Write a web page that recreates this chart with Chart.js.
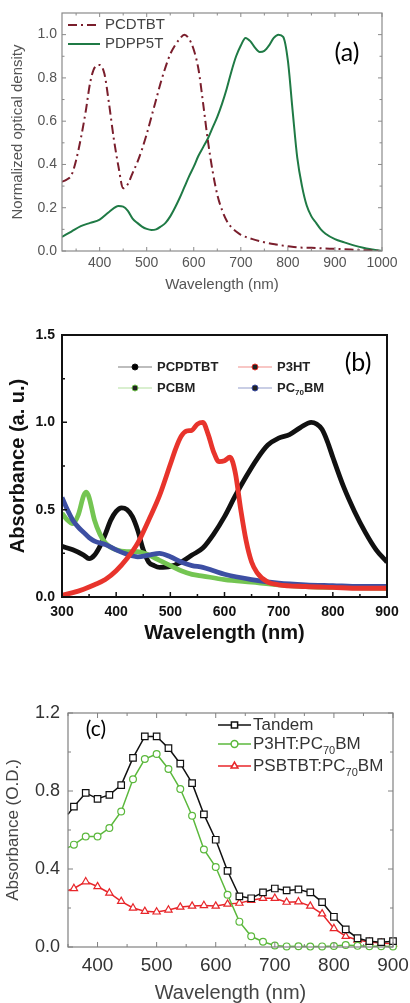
<!DOCTYPE html>
<html>
<head>
<meta charset="utf-8">
<title>Absorption spectra</title>
<script src="https://cdn.jsdelivr.net/npm/chart.js@4.4.0/dist/chart.umd.min.js"></script>
<style>
  html, body { margin: 0; padding: 0; background: #fff; }
  body { width: 410px; height: 1003px; position: relative; overflow: hidden; }
  canvas { position: absolute; left: 0; }
</style>
</head>
<body>
<canvas id="chartA" width="410" height="305" style="top:0"></canvas>
<canvas id="chartB" width="410" height="330" style="top:320px"></canvas>
<canvas id="chartC" width="410" height="323" style="top:680px"></canvas>
<script>
// (a) normalized optical density
const waveA1 = [320, 330, 340, 350, 360, 370, 380, 390, 400, 410, 420, 430, 440, 450, 460, 470, 480, 490, 500, 510,
    520, 530, 540, 550, 560, 570, 580, 590, 600, 610, 620, 630, 640, 650, 660, 670, 680, 690, 700,
    725, 750, 775, 800, 825, 850, 875, 900, 950, 1000];
const pcdtbt = [0.32, 0.33, 0.35, 0.42, 0.52, 0.64, 0.78, 0.85, 0.86, 0.82, 0.68, 0.52, 0.39, 0.29, 0.31, 0.36, 0.41, 0.47, 0.54, 0.62,
    0.70, 0.78, 0.85, 0.91, 0.95, 0.98, 1.0, 0.98, 0.93, 0.84, 0.68, 0.51, 0.37, 0.26, 0.19, 0.14, 0.11, 0.09, 0.075,
    0.055, 0.04, 0.03, 0.022, 0.016, 0.015, 0.012, 0.01, 0.005, 0.0];
const waveA2 = [320, 340, 360, 380, 400, 420, 440,
    450, 460, 470, 480, 490, 500, 510, 520, 530, 540, 550, 560, 570, 580, 590, 600, 610, 620, 630, 640,
    650, 660, 670, 680, 690, 700, 710, 720, 730, 740, 750, 760, 770, 780, 790, 800, 810, 820, 830, 840,
    850, 860, 870, 880, 900, 920, 940, 960, 980, 1000];
const pdpp5t = [0.065, 0.09, 0.115, 0.13, 0.145, 0.18, 0.208,
    0.205, 0.185, 0.15, 0.13, 0.113, 0.102, 0.097, 0.10, 0.113, 0.13, 0.16, 0.20, 0.245, 0.295, 0.345, 0.39, 0.44, 0.48, 0.52, 0.57,
    0.62, 0.68, 0.75, 0.83, 0.90, 0.95, 0.985, 0.97, 0.94, 0.92, 0.925, 0.95, 0.985, 1.0, 0.99, 0.88, 0.65, 0.43, 0.30, 0.21,
    0.16, 0.13, 0.10, 0.08, 0.055, 0.04, 0.026, 0.015, 0.007, 0.0];
const ticksAX = [400, 500, 600, 700, 800, 900, 1000];
const minorAX = [350, 450, 550, 650, 750, 850, 950];
const ticksAY = [0, 0.2, 0.4, 0.6, 0.8, 1.0];
const minorAY = [0.1, 0.3, 0.5, 0.7, 0.9];

// (b) absorbance of donors and fullerenes
const waveP3ht = [300, 320, 340, 360, 380, 400, 420, 440, 460, 480, 500,
    510, 520, 530, 540, 550, 560, 570, 580, 590, 600, 610, 620, 630, 640, 650, 660,
    680, 700, 750, 800, 850, 900];
const p3ht = [0.01, 0.025, 0.045, 0.07, 0.10, 0.15, 0.22, 0.31, 0.44, 0.58, 0.76,
    0.85, 0.92, 0.95, 0.955, 0.99, 1.0, 0.93, 0.83, 0.775, 0.78, 0.80, 0.71, 0.50, 0.32, 0.20, 0.14,
    0.085, 0.07, 0.06, 0.055, 0.05, 0.05];
const wavePcpdtbt = [300, 320, 340, 350, 360, 370, 380, 390, 400, 410, 420, 430, 440, 450, 460, 470, 480,
    500, 520, 540, 560, 580, 600, 620, 640, 660, 680, 700, 720, 740, 760, 770, 780, 790, 800,
    820, 840, 860, 880, 900];
const pcpdtbt = [0.29, 0.27, 0.24, 0.22, 0.24, 0.29, 0.36, 0.44, 0.49, 0.51, 0.50, 0.46, 0.38, 0.27, 0.20, 0.18, 0.17,
    0.175, 0.20, 0.24, 0.28, 0.36, 0.46, 0.58, 0.69, 0.79, 0.87, 0.91, 0.93, 0.97, 1.0, 0.99, 0.96, 0.89, 0.80,
    0.63, 0.49, 0.37, 0.27, 0.20];
const wavePcbm = [300, 310, 320, 330, 340, 345, 350, 360, 370, 380, 400, 420, 440, 460, 480, 500, 520, 540, 560, 600,
    650, 700, 750, 800, 900];
const pcbm = [0.48, 0.44, 0.42, 0.47, 0.58, 0.60, 0.57, 0.44, 0.36, 0.31, 0.27, 0.26, 0.26, 0.24, 0.21, 0.18, 0.15, 0.13, 0.12, 0.10,
    0.085, 0.07, 0.06, 0.055, 0.05];
const wavePc70 = [300, 310, 320, 330, 340, 350, 360, 380, 400, 420, 440, 460, 480, 500, 520, 540, 560, 580, 600,
    650, 700, 750, 800, 850, 900];
const pc70bm = [0.57, 0.50, 0.44, 0.40, 0.37, 0.34, 0.32, 0.30, 0.27, 0.245, 0.23, 0.24, 0.25, 0.23, 0.20, 0.18, 0.17, 0.15, 0.13,
    0.10, 0.08, 0.07, 0.065, 0.06, 0.06];
const ticksBX = [300, 400, 500, 600, 700, 800, 900];
const minorBX = [350, 450, 550, 650, 750, 850];
const ticksBY = [0, 0.5, 1.0, 1.5];
const minorBY = [0.25, 0.75, 1.25];

// (c) tandem vs. single blends
const waveC = [350, 360, 380, 400, 420, 440, 460, 480, 500, 520, 540, 560, 580, 600, 620, 640, 660, 680, 700, 720,
    740, 760, 780, 800, 820, 840, 860, 880, 900];
const tandem = [0.68, 0.72, 0.79, 0.76, 0.78, 0.83, 0.97, 1.08, 1.08, 1.02, 0.94, 0.84, 0.68, 0.55, 0.39, 0.26, 0.25, 0.28, 0.30, 0.29,
    0.295, 0.28, 0.23, 0.155, 0.09, 0.045, 0.03, 0.025, 0.03];
const p3htPc70 = [0.51, 0.525, 0.567, 0.567, 0.61, 0.695, 0.86, 0.964, 0.99, 0.913, 0.81, 0.673, 0.50, 0.41, 0.268, 0.13, 0.055, 0.027, 0.008, 0.003,
    0.004, 0.002, 0.003, 0.005, 0.01, 0.006, 0.004, 0.004, 0.003];
const psbtbtPc70 = [0.29, 0.30, 0.335, 0.31, 0.277, 0.234, 0.20, 0.183, 0.18, 0.19, 0.205, 0.21, 0.213, 0.21, 0.22, 0.225, 0.24, 0.25, 0.25, 0.23,
    0.232, 0.21, 0.17, 0.095, 0.055, 0.036, 0.025, 0.02, 0.017];
const ticksCX = [400, 500, 600, 700, 800, 900];
const minorCX = [350, 450, 550, 650, 750, 850];
const ticksCY = [0, 0.4, 0.8, 1.2];
const minorCY = [0.2, 0.6, 1.0];

const SANS = '"Liberation Sans", Arial, sans-serif';
Chart.defaults.font.family = SANS;
Chart.defaults.animation = false;

function pairs(xs, ys) {
    return xs.map((x, i) => ({ x: x, y: ys[i] }));
}

// box round the plot area with inward tick marks
const frameTicks = {
    id: 'frameTicks',
    afterDatasetsDraw(chart, args, o) {
        const { ctx, chartArea: a } = chart;
        const xs = chart.scales.x, ys = chart.scales.y;
        ctx.save();
        ctx.strokeStyle = o.color;
        ctx.lineWidth = o.tickWidth;
        ctx.beginPath();
        const mark = (side, v, len) => {
            if (side === 'bottom' || side === 'top') {
                const px = xs.getPixelForValue(v);
                const y0 = side === 'bottom' ? a.bottom : a.top;
                ctx.moveTo(px, y0);
                ctx.lineTo(px, side === 'bottom' ? y0 - len : y0 + len);
            } else {
                const py = ys.getPixelForValue(v);
                const x0 = side === 'left' ? a.left : a.right;
                ctx.moveTo(x0, py);
                ctx.lineTo(side === 'left' ? x0 + len : x0 - len, py);
            }
        };
        o.sides.forEach(side => {
            const horiz = side === 'bottom' || side === 'top';
            (horiz ? o.xMajor : o.yMajor).forEach(v => mark(side, v, o.major));
            (horiz ? o.xMinor : o.yMinor).forEach(v => mark(side, v, o.minor));
        });
        ctx.stroke();
        ctx.lineWidth = o.width;
        ctx.strokeRect(a.left, a.top, a.right - a.left, a.bottom - a.top);
        ctx.restore();
    }
};

// text with subscripts: odd parts are lowered and smaller
function drawParts(ctx, parts, x, y, size, weight, drop) {
    parts.forEach((p, i) => {
        const sub = i % 2 === 1;
        const s = sub ? Math.round(size * 0.62) : size;
        ctx.font = weight + ' ' + s + 'px ' + SANS;
        ctx.fillText(p, x, sub ? y + size * drop : y);
        x += ctx.measureText(p).width;
    });
}

const keyBox = {
    id: 'keyBox',
    afterDraw(chart, args, o) {
        const ctx = chart.ctx;
        ctx.save();
        ctx.textBaseline = 'middle';
        o.items.forEach(it => {
            ctx.globalAlpha = o.lineAlpha || 1;
            ctx.strokeStyle = it.color;
            ctx.lineWidth = o.lineWidth;
            ctx.setLineDash(it.dash || []);
            ctx.beginPath();
            ctx.moveTo(it.x, it.y);
            ctx.lineTo(it.x + o.lineLen, it.y);
            ctx.stroke();
            ctx.setLineDash([]);
            ctx.globalAlpha = 1;
            if (it.marker) {
                ctx.fillStyle = it.fill || it.color;
                Chart.helpers.drawPoint(ctx, {
                    pointStyle: it.marker, radius: it.radius || o.radius, borderWidth: o.lineWidth, rotation: 0
                }, it.x + o.lineLen / 2, it.y);
            }
            ctx.fillStyle = o.textColor;
            drawParts(ctx, it.label, it.x + o.lineLen + o.gap, it.y, o.size, o.weight, o.drop || 0.32);
        });
        ctx.restore();
    }
};

const panelTag = {
    id: 'panelTag',
    afterDraw(chart, args, o) {
        const ctx = chart.ctx;
        ctx.save();
        ctx.font = o.size + 'px Lato, "Open Sans", sans-serif';
        ctx.fillStyle = '#000';
        ctx.textAlign = 'center';
        ctx.textBaseline = 'middle';
        ctx.fillText(o.text, o.x, o.y);
        ctx.restore();
    }
};

function xAxis(min, max, ticks, height, opt) {
    return {
        type: 'linear', min: min, max: max,
        afterBuildTicks: s => { s.ticks = ticks.map(v => ({ value: v })); },
        afterFit: s => { s.height = height; s.paddingLeft = 0; s.paddingRight = 0; },
        grid: { display: false, drawTicks: false },
        border: { display: false },
        ticks: {
            padding: opt.pad, color: opt.color, autoSkip: false, maxRotation: 0,
            font: { size: opt.size, weight: opt.weight, lineHeight: 1 },
            callback: v => String(v)
        },
        title: {
            display: true, text: 'Wavelength (nm)', color: opt.titleColor,
            font: { size: opt.titleSize, weight: opt.weight, lineHeight: 1 },
            padding: { top: 0, bottom: opt.titlePad }
        }
    };
}

function yAxis(min, max, ticks, width, text, opt) {
    return {
        type: 'linear', min: min, max: max,
        afterBuildTicks: s => { s.ticks = ticks.map(v => ({ value: v })); },
        afterFit: s => { s.width = width; s.paddingTop = 0; s.paddingBottom = 0; },
        grid: { display: false, drawTicks: false },
        border: { display: false },
        ticks: {
            padding: opt.pad, color: opt.color, autoSkip: false,
            font: { size: opt.size, weight: opt.weight, lineHeight: 1 },
            callback: v => v.toFixed(1)
        },
        title: {
            display: true, text: text, color: opt.titleColor,
            font: { size: opt.titleSize, weight: opt.weight, lineHeight: 1 },
            padding: { top: opt.titlePad, bottom: 0 }
        }
    };
}

const common = {
    responsive: false,
    events: [],
    parsing: false,
    plugins: { legend: { display: false }, tooltip: { enabled: false } }
};

// ---- (a)
new Chart(document.getElementById('chartA'), {
    type: 'line',
    data: {
        datasets: [
            { data: pairs(waveA1, pcdtbt), borderColor: '#7a1e2c', borderWidth: 2, borderDash: [9, 4, 2, 4],
              pointRadius: 0, cubicInterpolationMode: 'monotone' },
            { data: pairs(waveA2, pdpp5t), borderColor: '#1f7a45', borderWidth: 2,
              pointRadius: 0, cubicInterpolationMode: 'monotone' }
        ]
    },
    options: Object.assign({}, common, {
        layout: { padding: { left: 0, top: 13, right: 28, bottom: 0 } },
        plugins: Object.assign({}, common.plugins, {
            frameTicks: { color: '#8a8a8a', width: 1.2, tickWidth: 1, major: 4, minor: 2.5,
                sides: ['bottom', 'top', 'left', 'right'],
                xMajor: ticksAX, xMinor: minorAX, yMajor: ticksAY, yMinor: minorAY },
            keyBox: { lineWidth: 2, lineLen: 32, gap: 5, size: 15, weight: 'normal', textColor: '#444', radius: 0,
                items: [
                    { x: 68, y: 25, color: '#7a1e2c', dash: [9, 4, 2, 4], label: ['PCDTBT'] },
                    { x: 68, y: 44, color: '#1f7a45', label: ['PDPP5T'] }
                ] },
            panelTag: { text: '(a)', x: 347, y: 53, size: 25 }
        }),
        scales: {
            x: xAxis(320, 1000, ticksAX, 54, { pad: 5, color: '#555', size: 14, weight: 'normal',
                titleColor: '#555', titleSize: 15, titlePad: 12.5 }),
            y: yAxis(0, 1.1, ticksAY, 62, 'Normalized optical density', { pad: 5, color: '#555', size: 14,
                weight: 'normal', titleColor: '#555', titleSize: 15, titlePad: 10.8 })
        }
    }),
    plugins: [frameTicks, keyBox, panelTag]
});

// ---- (b)
const thick = { borderWidth: 4.8, pointRadius: 0, cubicInterpolationMode: 'monotone' };
new Chart(document.getElementById('chartB'), {
    type: 'line',
    data: {
        datasets: [
            Object.assign({ data: pairs(waveP3ht, p3ht), borderColor: '#e8342c' }, thick),
            Object.assign({ data: pairs(wavePc70, pc70bm), borderColor: '#3d4fa3' }, thick),
            Object.assign({ data: pairs(wavePcbm, pcbm), borderColor: '#74c552' }, thick),
            Object.assign({ data: pairs(wavePcpdtbt, pcpdtbt), borderColor: '#111111' }, thick)
        ]
    },
    options: Object.assign({}, common, {
        layout: { padding: { left: 0, top: 15, right: 23, bottom: 0 } },
        plugins: Object.assign({}, common.plugins, {
            frameTicks: { color: '#111', width: 2, tickWidth: 1.5, major: 5, minor: 3,
                sides: ['bottom', 'left'],
                xMajor: ticksBX, xMinor: minorBX, yMajor: ticksBY, yMinor: minorBY },
            keyBox: { lineWidth: 1, lineAlpha: 0.55, lineLen: 34, gap: 5, size: 13, weight: 'bold', textColor: '#222',
                radius: 3, drop: 0.4,
                items: [
                    { x: 118, y: 47, color: '#111111', marker: 'circle', label: ['PCPDTBT'] },
                    { x: 238, y: 47, color: '#e8342c', marker: 'circle', label: ['P3HT'] },
                    { x: 118, y: 68, color: '#74c552', marker: 'circle', label: ['PCBM'] },
                    { x: 238, y: 68, color: '#3d4fa3', marker: 'circle', label: ['PC', '70', 'BM'] }
                ] },
            panelTag: { text: '(b)', x: 358, y: 43, size: 25 }
        }),
        scales: {
            x: xAxis(300, 900, ticksBX, 53, { pad: 7.7, color: '#111', size: 14, weight: 'bold',
                titleColor: '#111', titleSize: 20, titlePad: 7 }),
            y: yAxis(0, 1.5, ticksBY, 62, 'Absorbance (a. u.)', { pad: 7, color: '#111', size: 14,
                weight: 'bold', titleColor: '#111', titleSize: 20, titlePad: 8 })
        }
    }),
    plugins: [frameTicks, keyBox, panelTag]
});

// ---- (c) markers every 20 nm; the 350 nm start point has none
const markerAt = r => ctx => (ctx.raw && ctx.raw.x % 20 === 0 ? r : 0);
const marked = { borderWidth: 1.5, pointBorderWidth: 1.2, pointBackgroundColor: '#fff', tension: 0, clip: 5 };
new Chart(document.getElementById('chartC'), {
    type: 'line',
    data: {
        datasets: [
            Object.assign({ data: pairs(waveC, tandem), borderColor: '#111', pointBorderColor: '#111',
                pointStyle: 'rect', pointRadius: markerAt(4.6) }, marked),
            Object.assign({ data: pairs(waveC, p3htPc70), borderColor: '#5bb83c', pointBorderColor: '#5bb83c',
                pointStyle: 'circle', pointRadius: markerAt(3.4) }, marked),
            Object.assign({ data: pairs(waveC, psbtbtPc70), borderColor: '#e8262a', pointBorderColor: '#e8262a',
                pointStyle: 'triangle', pointRadius: markerAt(4.2) }, marked)
        ]
    },
    options: Object.assign({}, common, {
        layout: { padding: { left: 0, top: 33, right: 17, bottom: 0 } },
        plugins: Object.assign({}, common.plugins, {
            frameTicks: { color: '#808080', width: 1.2, tickWidth: 1, major: 5, minor: 3,
                sides: ['bottom', 'top', 'left', 'right'],
                xMajor: ticksCX, xMinor: minorCX, yMajor: ticksCY, yMinor: minorCY },
            keyBox: { lineWidth: 1.5, lineLen: 33, gap: 2, size: 17, weight: 'normal', textColor: '#333',
                radius: 3.4, drop: 0.42,
                items: [
                    { x: 218, y: 45, color: '#111', fill: '#fff', marker: 'rect', radius: 4.4, label: ['Tandem'] },
                    { x: 218, y: 64, color: '#5bb83c', fill: '#fff', marker: 'circle', label: ['P3HT:PC', '70', 'BM'] },
                    { x: 218, y: 86, color: '#e8262a', fill: '#fff', marker: 'triangle', radius: 4, label: ['PSBTBT:PC', '70', 'BM'] }
                ] },
            panelTag: { text: '(c)', x: 96, y: 49, size: 21 }
        }),
        scales: {
            x: xAxis(350, 900, ticksCX, 56, { pad: 9.5, color: '#333', size: 19, weight: 'normal',
                titleColor: '#444', titleSize: 20, titlePad: 0 }),
            y: yAxis(0, 1.2, ticksCY, 68, 'Absorbance (O.D.)', { pad: 8, color: '#333', size: 18,
                weight: 'normal', titleColor: '#444', titleSize: 17, titlePad: 4.5 })
        }
    }),
    plugins: [frameTicks, keyBox, panelTag]
});
</script>
</body>
</html>
